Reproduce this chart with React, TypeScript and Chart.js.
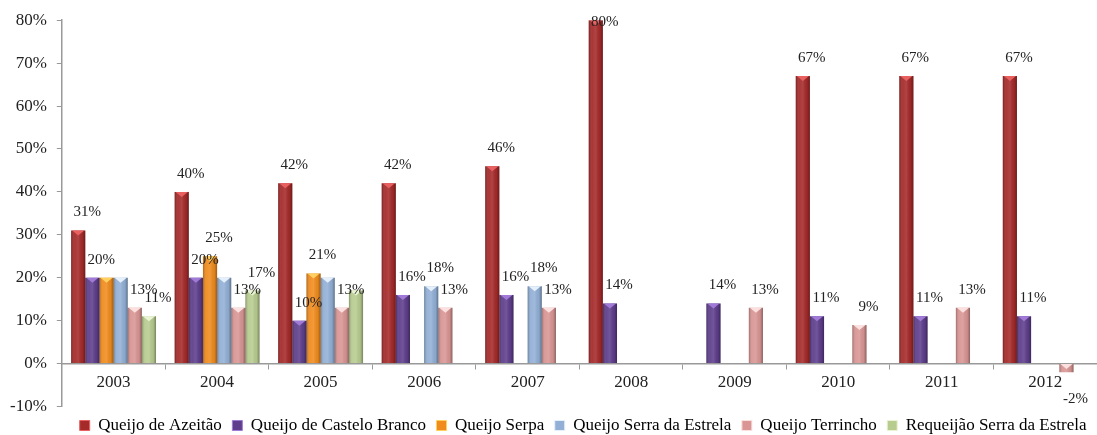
import React, { useEffect, useRef } from "react";
import { Chart, registerables } from "chart.js";

Chart.register(...registerables);

const categories = ["2003", "2004", "2005", "2006", "2007", "2008", "2009", "2010", "2011", "2012"];
const seriesNames = [
  "Queijo de Azeitão",
  "Queijo de Castelo Branco",
  "Queijo Serpa",
  "Queijo Serra da Estrela",
  "Queijo Terrincho",
  "Requeijão Serra da Estrela",
];
const azeitao = [31, 40, 42, 42, 46, 80, null, 67, 67, 67];
const casteloBranco = [20, 20, 10, 16, 16, 14, 14, 11, 11, 11];
const serpa = [20, 25, 21, null, null, null, null, null, null, null];
const serraEstrela = [20, 20, 20, 18, 18, null, null, null, null, null];
const terrincho = [13, 13, 13, 13, 13, null, 13, 9, 13, -2];
const requeijao = [11, 17, 17, null, null, null, null, null, null, null];
const yTicks = [-10, 0, 10, 20, 30, 40, 50, 60, 70, 80];
// value labels that the reference does not show: [series index, category index]
const hiddenLabels = [[2, 0], [3, 0], [3, 1], [3, 2], [5, 2]];

// [base, light top]
const colors = [
  ["#a52a2a", "#e86060"],
  ["#5e3e8c", "#a07ad6"],
  ["#f08c1e", "#ffd060"],
  ["#92b0d6", "#e6f0fa"],
  ["#d99694", "#fbe0e0"],
  ["#b8cc90", "#eaf4d4"],
];

const FONT = "'Liberation Serif', 'Times New Roman', serif";

export default function App() {
  const ref = useRef<HTMLCanvasElement | null>(null);
  useEffect(() => {
    const canvas = ref.current;
    if (!canvas) return;
    let chart: any = null;
    let cancelled = false;
    const values = [azeitao, casteloBranco, serpa, serraEstrela, terrincho, requeijao];
    const isHidden = (d: number, i: number) => hiddenLabels.some((p) => p[0] === d && p[1] === i);

    const shadePlugin = {
      id: "shade",
      afterDatasetsDraw(c: any) {
        const ctx = c.ctx;
        ctx.save();
        c.data.datasets.forEach((ds: any, di: number) => {
          const meta = c.getDatasetMeta(di);
          meta.data.forEach((el: any, idx: number) => {
            const v = ds.data[idx];
            if (v === null || v === undefined) return;
            const w = el.width;
            const x0 = el.x - w / 2;
            const top = Math.min(el.y, el.base);
            const h = Math.abs(el.base - el.y);
            const g = ctx.createLinearGradient(x0, 0, x0 + w, 0);
            g.addColorStop(0, "rgba(0,0,0,0.28)");
            g.addColorStop(0.25, "rgba(255,255,255,0.06)");
            g.addColorStop(0.5, "rgba(255,255,255,0.12)");
            g.addColorStop(0.8, "rgba(0,0,0,0.05)");
            g.addColorStop(1, "rgba(0,0,0,0.35)");
            ctx.fillStyle = g;
            ctx.fillRect(x0, top, w, h);
            ctx.fillStyle = colors[di][1];
            ctx.beginPath();
            ctx.moveTo(x0 + 1, top);
            ctx.lineTo(x0 + w - 1, top);
            ctx.lineTo(el.x, top + Math.min(5, h));
            ctx.closePath();
            ctx.fill();
          });
        });
        ctx.font = "15px " + FONT;
        ctx.textAlign = "center";
        ctx.textBaseline = "middle";
        ctx.fillStyle = "#222";
        c.data.datasets.forEach((ds: any, di: number) => {
          const meta = c.getDatasetMeta(di);
          meta.data.forEach((el: any, idx: number) => {
            const v = ds.data[idx];
            if (v === null || v === undefined || isHidden(di, idx)) return;
            let y = v >= 0 ? el.y - 18 : el.y + 27;
            if (y < c.chartArea.top + 2) y = c.chartArea.top + 2;
            ctx.fillText(v + "%", el.x + 9, y);
          });
        });
        ctx.restore();
      },
    };

    const build = () => {
      if (cancelled) return;
      chart = new Chart(canvas, {
        type: "bar",
        data: {
          labels: categories,
          datasets: seriesNames.map((name, i) => ({
            label: name,
            data: values[i],
            backgroundColor: colors[i][0],
            borderWidth: 0,
            categoryPercentage: 0.82,
            barPercentage: 1,
          })),
        },
        options: {
          animation: false,
          responsive: false,
          maintainAspectRatio: false,
          layout: { padding: { left: 0, right: 0, top: 15, bottom: 0 } },
          plugins: {
            tooltip: { enabled: false },
            legend: {
              position: "bottom",
              align: "end",
              labels: {
                font: { family: FONT, size: 17 },
                color: "#222",
                boxWidth: 10,
                boxHeight: 10,
                padding: 10.5,
                generateLabels: () =>
                  seriesNames.map((n, i) => ({
                    text: n,
                    fillStyle: colors[i][0],
                    strokeStyle: colors[i][1],
                    lineWidth: 1,
                    datasetIndex: i,
                    hidden: false,
                  })),
              },
            },
          },
          scales: {
            x: {
              position: { y: 0 } as any,
              grid: {
                offset: true,
                drawOnChartArea: false,
                drawTicks: true,
                tickLength: 5,
                color: "#999",
              },
              border: { color: "#999", width: 1.5 },
              ticks: { font: { family: FONT, size: 17 }, color: "#222", padding: 4 },
            },
            y: {
              min: -10,
              max: 80,
              afterBuildTicks: (axis: any) => {
                axis.ticks = yTicks.map((v) => ({ value: v }));
              },
              grid: { drawOnChartArea: false, tickLength: 5, color: "#999" },
              border: { color: "#999", width: 1.5 },
              ticks: {
                font: { family: FONT, size: 17 },
                color: "#222",
                padding: 10,
                callback: (v: any) => v + "%",
              },
            },
          },
        },
        plugins: [shadePlugin],
      });
    };

    const fonts: any = (document as any).fonts;
    if (fonts && fonts.load) {
      Promise.all([fonts.load("17px 'Liberation Serif'"), fonts.load("15px 'Liberation Serif'")])
        .then(build, build);
    } else {
      build();
    }
    return () => {
      cancelled = true;
      if (chart) chart.destroy();
    };
  }, []);

  return (
    <div style={{ position: "fixed", left: 0, top: 0, width: 1097, height: 435, overflow: "hidden", background: "#fff" }}>
      <canvas ref={ref} width={1097} height={444} style={{ width: 1097, height: 444, display: "block" }} />
    </div>
  );
}
